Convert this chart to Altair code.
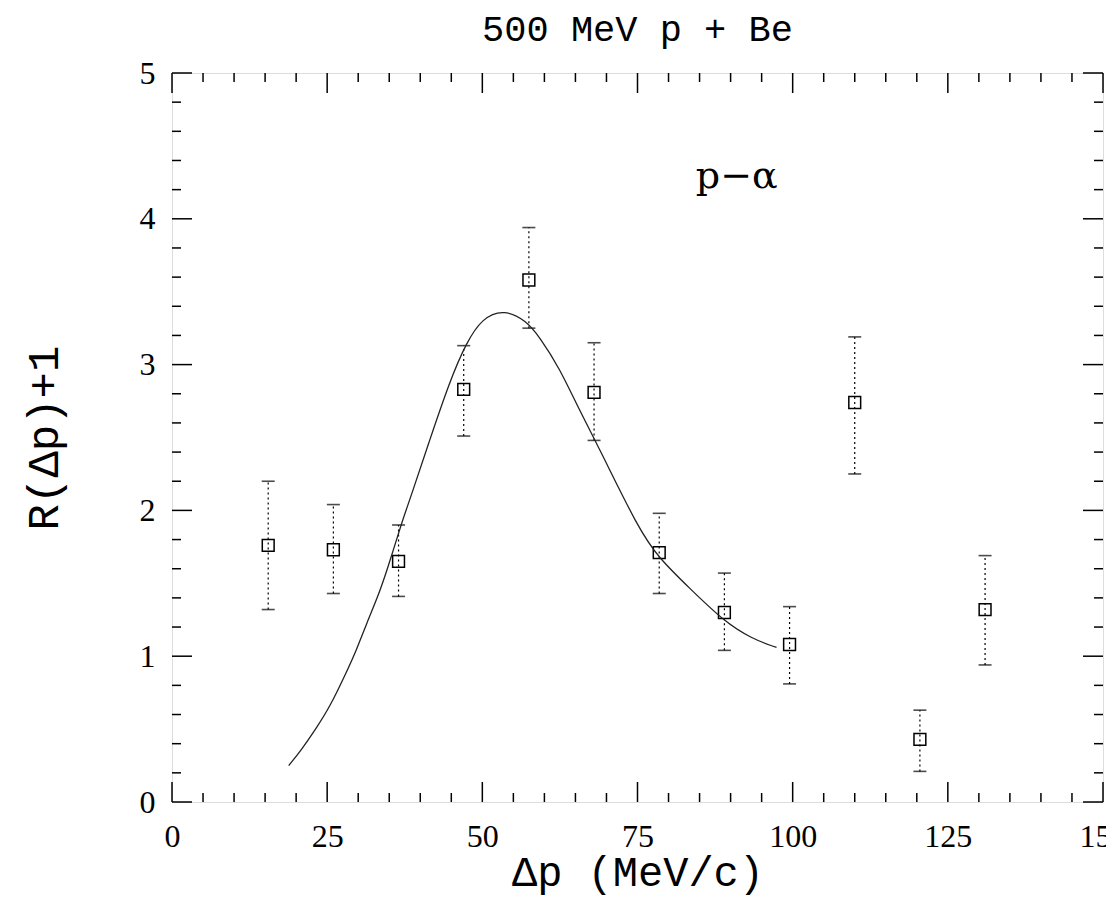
import altair as alt
import pandas as pd

# ---- data ----
dp = [15.5, 26, 36.5, 47, 57.5, 68, 78.5, 89, 99.5, 110, 120.5, 131]
r_val = [1.76, 1.73, 1.65, 2.83, 3.58, 2.81, 1.71, 1.30, 1.08, 2.74, 0.43, 1.32]
r_hi = [2.20, 2.04, 1.90, 3.13, 3.94, 3.15, 1.98, 1.57, 1.34, 3.19, 0.63, 1.69]
r_lo = [1.32, 1.43, 1.41, 2.51, 3.25, 2.48, 1.43, 1.04, 0.81, 2.25, 0.21, 0.94]

fit_x = [18.8, 20.9, 23.3, 25.4, 28.1, 29.7, 31.4, 33.0, 34.6, 37.1, 38.3, 41.5,
         44.7, 47.4, 50.0, 53.5, 57.1, 59.2, 62.4, 65.6, 68.8, 75.2, 78.5, 83.3,
         88.9, 93.4, 97.4]
fit_y = [0.25, 0.36, 0.51, 0.65, 0.89, 1.04, 1.23, 1.39, 1.58, 1.93, 2.07, 2.48,
         2.88, 3.15, 3.32, 3.38, 3.30, 3.19, 2.98, 2.69, 2.43, 1.87, 1.67, 1.47,
         1.24, 1.12, 1.06]

x_major = [0, 25, 50, 75, 100, 125, 150]
x_minor = [v for v in range(5, 150, 5) if v % 25 != 0]
y_major = [0, 1, 2, 3, 4, 5]
y_minor = [round(i * 0.2, 1) for i in range(1, 25) if i % 5 != 0]

label_text = ["p\u2212\u03b1"]
label_x = [84.4]
label_y = [4.21]

W, H = 931, 729
MAJ, MIN = 20, 9
MONO = "Liberation Mono"
SERIF = "Liberation Serif"

xs = alt.Scale(domain=[0, 150], nice=False, zero=False)
ys = alt.Scale(domain=[0, 5], nice=False, zero=False)

pts = pd.DataFrame({"x": dp, "y": r_val, "hi": r_hi, "lo": r_lo})
fit = pd.DataFrame({"x": fit_x, "y": fit_y})
lab = pd.DataFrame({"x": label_x, "y": label_y, "t": label_text})

xaxis = alt.Axis(values=x_major, ticks=False, domain=False, grid=False,
                 labelFont=SERIF, labelFontSize=32, labelPadding=19,
                 labelFlush=False, labelOverlap=False, labelColor="black",
                 title="\u0394p (MeV/c)", titleFont=MONO, titleFontSize=42,
                 titleFontWeight="normal", titleColor="black",
                 titleY=83, titleBaseline="alphabetic")
yaxis = alt.Axis(values=y_major, ticks=False, domain=False, grid=False,
                 labelFont=SERIF, labelFontSize=32, labelPadding=17,
                 labelFlush=False, labelOverlap=False, labelColor="black",
                 title="R(\u0394p)+1", titleFont=MONO, titleFontSize=44,
                 titleFontWeight="normal", titleColor="black",
                 titleX=-128, titleY=H / 2, titleAngle=270,
                 titleAlign="center", titleBaseline="middle")

X = lambda f: alt.X(f, scale=xs, axis=xaxis)
Y = lambda f: alt.Y(f, scale=ys, axis=yaxis)

errs = alt.Chart(pts).mark_rule(color="black", strokeWidth=1.2,
                                strokeDash=[2, 3]).encode(
    x=X("x:Q"), y=Y("lo:Q"), y2="hi:Q")
cap_hi = alt.Chart(pts).mark_tick(orient="horizontal", color="black",
                                  size=13, thickness=1.6).encode(
    x=X("x:Q"), y=Y("hi:Q"))
cap_lo = alt.Chart(pts).mark_tick(orient="horizontal", color="black",
                                  size=13, thickness=1.6).encode(
    x=X("x:Q"), y=Y("lo:Q"))
squares = alt.Chart(pts).mark_point(shape="square", filled=False, size=140,
                                    color="black", strokeWidth=1.5,
                                    opacity=1).encode(
    x=X("x:Q"), y=Y("y:Q"))
curve = alt.Chart(fit).mark_line(color="#222222", strokeWidth=1.3,
                                 interpolate="basis").encode(
    x=X("x:Q"), y=Y("y:Q"))
annot = alt.Chart(lab).mark_text(font="DejaVu Serif", fontSize=38,
                                 align="left", baseline="alphabetic",
                                 color="black").encode(
    x=X("x:Q"), y=Y("y:Q"), text="t:N")

def xticks(vals, length, top):
    d = pd.DataFrame({"v": vals})
    y0, y1 = (0, length) if top else (H, H - length)
    return alt.Chart(d).mark_rule(color="black", strokeWidth=1.5).encode(
        x=X("v:Q"), y=alt.value(y0), y2=alt.value(y1))

def yticks(vals, length, left):
    d = pd.DataFrame({"v": vals})
    x0, x1 = (0, length) if left else (W, W - length)
    return alt.Chart(d).mark_rule(color="black", strokeWidth=1.5).encode(
        y=Y("v:Q"), x=alt.value(x0), x2=alt.value(x1))

ticks = [
    xticks(x_major, MAJ, True), xticks(x_minor, MIN, True),
    xticks(x_major, MAJ, False), xticks(x_minor, MIN, False),
    yticks(y_major, MAJ, True), yticks(y_minor, MIN, True),
    yticks(y_major, MAJ, False), yticks(y_minor, MIN, False),
]

chart = alt.layer(errs, cap_hi, cap_lo, squares, curve, annot, *ticks).properties(
    width=W, height=H,
    title=alt.Title("500 MeV p + Be", font=MONO, fontSize=37,
                    fontWeight="normal", color="black", anchor="middle",
                    offset=8),
    autosize=alt.AutoSizeParams(type="none"),
    padding={"left": 164, "top": 65, "right": 3, "bottom": 95},
).configure_view(stroke="black", strokeWidth=2).configure(background="white")

chart.save("out.html", embed_options={"renderer": "svg", "actions": False})
